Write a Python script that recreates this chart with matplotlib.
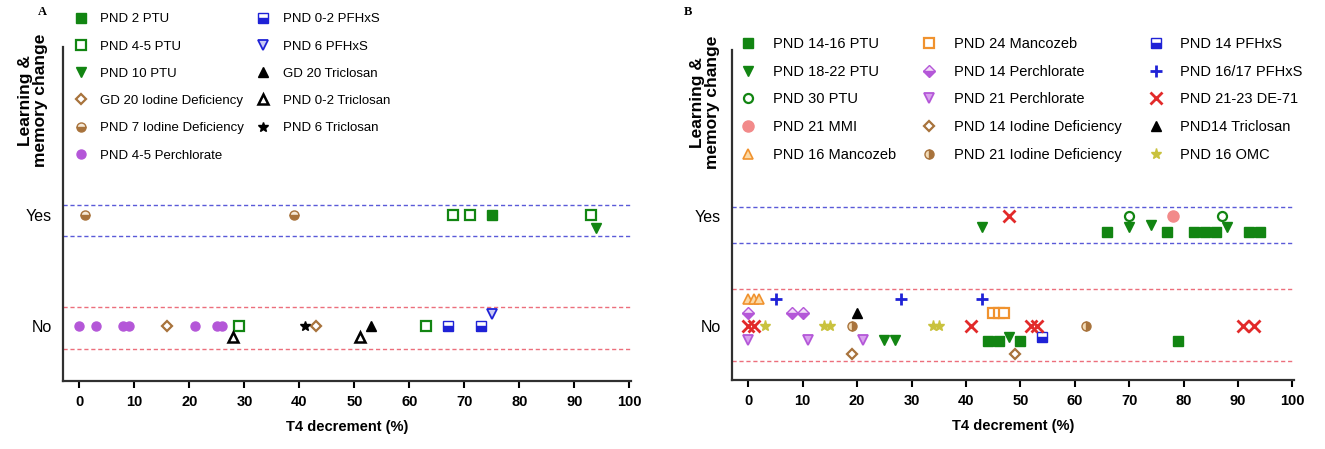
import matplotlib
matplotlib.use("Agg")
import matplotlib.pyplot as plt

plt.rcParams["font.family"] = ["Liberation Sans", "DejaVu Sans"]

# ---------- data: x = T4 decrement (%), y = learning/memory change (1 = Yes, 0 = No, small offsets keep points apart)
# Panel A
a_ptu2_x = [75]
a_ptu2_y = [1.0]
a_ptu45_x = [68, 71, 93, 29, 63]
a_ptu45_y = [1.0, 1.0, 1.0, 0.0, 0.0]
a_ptu10_x = [94]
a_ptu10_y = [0.88]
a_gd20_iod_x = [16, 43]
a_gd20_iod_y = [0.0, 0.0]
a_pnd7_iod_x = [1, 39]
a_pnd7_iod_y = [1.0, 1.0]
a_perch_x = [0, 3, 8, 9, 21, 25, 26]
a_perch_y = [0, 0, 0, 0, 0, 0, 0]
a_pfhxs02_x = [67, 73]
a_pfhxs02_y = [0.0, 0.0]
a_pfhxs6_x = [75]
a_pfhxs6_y = [0.11]
a_tcs_gd20_x = [53]
a_tcs_gd20_y = [0.0]
a_tcs02_x = [28, 51]
a_tcs02_y = [-0.1, -0.1]
a_tcs6_x = [41]
a_tcs6_y = [0.0]

# Panel B
b_ptu1416_x = [66, 77, 82, 84, 86, 92, 94, 44, 46, 50, 79]
b_ptu1416_y = [0.85, 0.85, 0.85, 0.85, 0.85, 0.85, 0.85, -0.14, -0.14, -0.14, -0.14]
b_ptu1822_x = [43, 70, 74, 88, 25, 27, 48]
b_ptu1822_y = [0.9, 0.9, 0.91, 0.9, -0.13, -0.13, -0.1]
b_ptu30_x = [70, 87]
b_ptu30_y = [1.0, 1.0]
b_mmi_x = [78]
b_mmi_y = [1.0]
b_manc16_x = [0, 1, 2]
b_manc16_y = [0.24, 0.24, 0.24]
b_manc24_x = [45, 46, 47]
b_manc24_y = [0.12, 0.12, 0.12]
b_perch14_x = [0, 8, 10]
b_perch14_y = [0.12, 0.12, 0.12]
b_perch21_x = [0, 11, 21]
b_perch21_y = [-0.13, -0.13, -0.13]
b_iod14_x = [19, 49]
b_iod14_y = [-0.25, -0.25]
b_iod21_x = [19, 62]
b_iod21_y = [0.0, 0.0]
b_pfhxs14_x = [54]
b_pfhxs14_y = [-0.1]
b_pfhxs1617_x = [5, 28, 43]
b_pfhxs1617_y = [0.24, 0.24, 0.24]
b_de71_x = [48, 0, 1, 41, 52, 53, 91, 93]
b_de71_y = [1.0, 0, 0, 0, 0, 0, 0, 0]
b_tcs14_x = [20]
b_tcs14_y = [0.12]
b_omc_x = [3, 14, 15, 34, 35]
b_omc_y = [0, 0, 0, 0, 0]

# band limits (dotted guide lines)
a_yes_band = [1.09, 0.81]
a_no_band = [0.17, -0.2]
b_yes_band = [1.08, 0.75]
b_no_band = [0.33, -0.32]

GREEN = "#128512"
BROWN = "#a8733c"
PURPLE = "#b457d8"
BLUE = "#1f22d6"
ORANGE = "#f0922e"

def st(marker, fc, ec, ms=6.5, mew=1.0, fill="full", alt="white"):
    return dict(marker=marker, markerfacecolor=fc, markeredgecolor=ec, markersize=ms,
                markeredgewidth=mew, fillstyle=fill, markerfacecoloralt=alt, linestyle="none")

series_a = [
    ("PND 2 PTU", a_ptu2_x, a_ptu2_y, st("s", GREEN, GREEN)),
    ("PND 4-5 PTU", a_ptu45_x, a_ptu45_y, st("s", "white", GREEN, mew=1.6)),
    ("PND 10 PTU", a_ptu10_x, a_ptu10_y, st("v", GREEN, GREEN)),
    ("GD 20 Iodine Deficiency", a_gd20_iod_x, a_gd20_iod_y, st("D", "white", BROWN, ms=5.5, mew=1.6)),
    ("PND 7 Iodine Deficiency", a_pnd7_iod_x, a_pnd7_iod_y, st("o", BROWN, BROWN, fill="bottom", alt="#f6ead8")),
    ("PND 4-5 Perchlorate", a_perch_x, a_perch_y, st("o", PURPLE, PURPLE)),
    ("PND 0-2 PFHxS", a_pfhxs02_x, a_pfhxs02_y, st("s", BLUE, BLUE, fill="bottom")),
    ("PND 6 PFHxS", a_pfhxs6_x, a_pfhxs6_y, st("v", "#c9caf5", BLUE, mew=1.3)),
    ("GD 20 Triclosan", a_tcs_gd20_x, a_tcs_gd20_y, st("^", "black", "black")),
    ("PND 0-2 Triclosan", a_tcs02_x, a_tcs02_y, st("^", "white", "black", mew=1.8)),
    ("PND 6 Triclosan", a_tcs6_x, a_tcs6_y, st("*", "black", "black", ms=7)),
]

series_b = [
    ("PND 14-16 PTU", b_ptu1416_x, b_ptu1416_y, st("s", GREEN, GREEN)),
    ("PND 18-22 PTU", b_ptu1822_x, b_ptu1822_y, st("v", GREEN, GREEN)),
    ("PND 30 PTU", b_ptu30_x, b_ptu30_y, st("o", "white", GREEN, mew=1.6)),
    ("PND 21 MMI", b_mmi_x, b_mmi_y, st("o", "#f28a8a", "#f28a8a", ms=8)),
    ("PND 16 Mancozeb", b_manc16_x, b_manc16_y, st("^", "#fbd9a6", ORANGE, mew=1.2)),
    ("PND 24 Mancozeb", b_manc24_x, b_manc24_y, st("s", "white", ORANGE, mew=1.6)),
    ("PND 14 Perchlorate", b_perch14_x, b_perch14_y, st("D", PURPLE, PURPLE, ms=6, fill="bottom", alt="#f3ddf8")),
    ("PND 21 Perchlorate", b_perch21_x, b_perch21_y, st("v", "#d9a2ee", PURPLE, mew=1.3)),
    ("PND 14 Iodine Deficiency", b_iod14_x, b_iod14_y, st("D", "white", BROWN, ms=5.5, mew=1.6)),
    ("PND 21 Iodine Deficiency", b_iod21_x, b_iod21_y, st("o", BROWN, BROWN, fill="right", alt="#f3dcb8")),
    ("PND 14 PFHxS", b_pfhxs14_x, b_pfhxs14_y, st("s", BLUE, BLUE, fill="bottom")),
    ("PND 16/17 PFHxS", b_pfhxs1617_x, b_pfhxs1617_y, st("+", BLUE, BLUE, ms=8, mew=2)),
    ("PND 21-23 DE-71", b_de71_x, b_de71_y, st("x", "#e22a2a", "#e22a2a", ms=8, mew=2)),
    ("PND14 Triclosan", b_tcs14_x, b_tcs14_y, st("^", "black", "black")),
    ("PND 16 OMC", b_omc_x, b_omc_y, st("*", "#c9c23e", "#c9c23e", ms=8)),
]

W, H = 1325, 449
fig = plt.figure(figsize=(W / 100, H / 100), dpi=100)
ax_a = fig.add_axes([63 / W, 1 - 381 / H, (631 - 63) / W, (381 - 47) / H])
ax_b = fig.add_axes([732 / W, 1 - 380 / H, (1294 - 732) / W, (380 - 50) / H])


def draw_panel(ax, series, yes_band, no_band):
    for y in yes_band:
        ax.axhline(y, color="#5a5ad8", lw=1, ls=(0, (3, 2)), zorder=1)
    for y in no_band:
        ax.axhline(y, color="#ec6f7c", lw=1, ls=(0, (3, 2)), zorder=1)
    for label, xs, ys, style in series:
        ax.plot(xs, ys, label=label, zorder=3, clip_on=False, **style)
    ax.set_xlim(-3, 100.3)
    ax.set_ylim(-0.49, 2.5)
    ax.set_xticks(range(0, 101, 10))
    ax.set_xticklabels([str(v) for v in range(0, 101, 10)], fontweight="bold", fontsize=10.5)
    ax.set_yticks([0, 1])
    ax.set_yticklabels(["No", "Yes"], fontsize=11.5)
    ax.tick_params(axis="x", length=5, width=1.5, direction="out", pad=5)
    ax.tick_params(axis="y", length=0, pad=8)
    for s in ["top", "right"]:
        ax.spines[s].set_visible(False)
    for s in ["left", "bottom"]:
        ax.spines[s].set_linewidth(1.6)
        ax.spines[s].set_color("#303030")
    ax.set_xlabel("T4 decrement (%)", fontweight="bold", fontsize=10.5, labelpad=8)
    ax.set_ylabel("Learning &\nmemory change", fontweight="bold", fontsize=12.5, linespacing=1.0)


draw_panel(ax_a, series_a, a_yes_band, a_no_band)
draw_panel(ax_b, series_b, b_yes_band, b_no_band)
ax_a.yaxis.set_label_coords(-0.027, 0.84)
ax_b.yaxis.set_label_coords(-0.021, 0.84)

leg_kw = dict(loc="upper left", frameon=False, handlelength=1.0,
              borderpad=0, borderaxespad=0, bbox_transform=fig.transFigure)
ax_a.legend(ncol=2, fontsize=9.5, handletextpad=1.0, labelspacing=1.14, columnspacing=0.9,
            bbox_to_anchor=(74 / W, 1 - 13 / H), **leg_kw)
ax_b.legend(ncol=3, fontsize=10.5, handletextpad=1.2, labelspacing=0.94, columnspacing=1.8,
            bbox_to_anchor=(740.7 / W, 1 - 37 / H), **leg_kw)

fig.text(42 / W, 1 - 12 / H, "A", family="Liberation Serif", fontweight="bold", fontsize=9, ha="center", va="center")
fig.text(688 / W, 1 - 12 / H, "B", family="Liberation Serif", fontweight="bold", fontsize=9, ha="center", va="center")

fig.savefig("out.png", dpi=100)
